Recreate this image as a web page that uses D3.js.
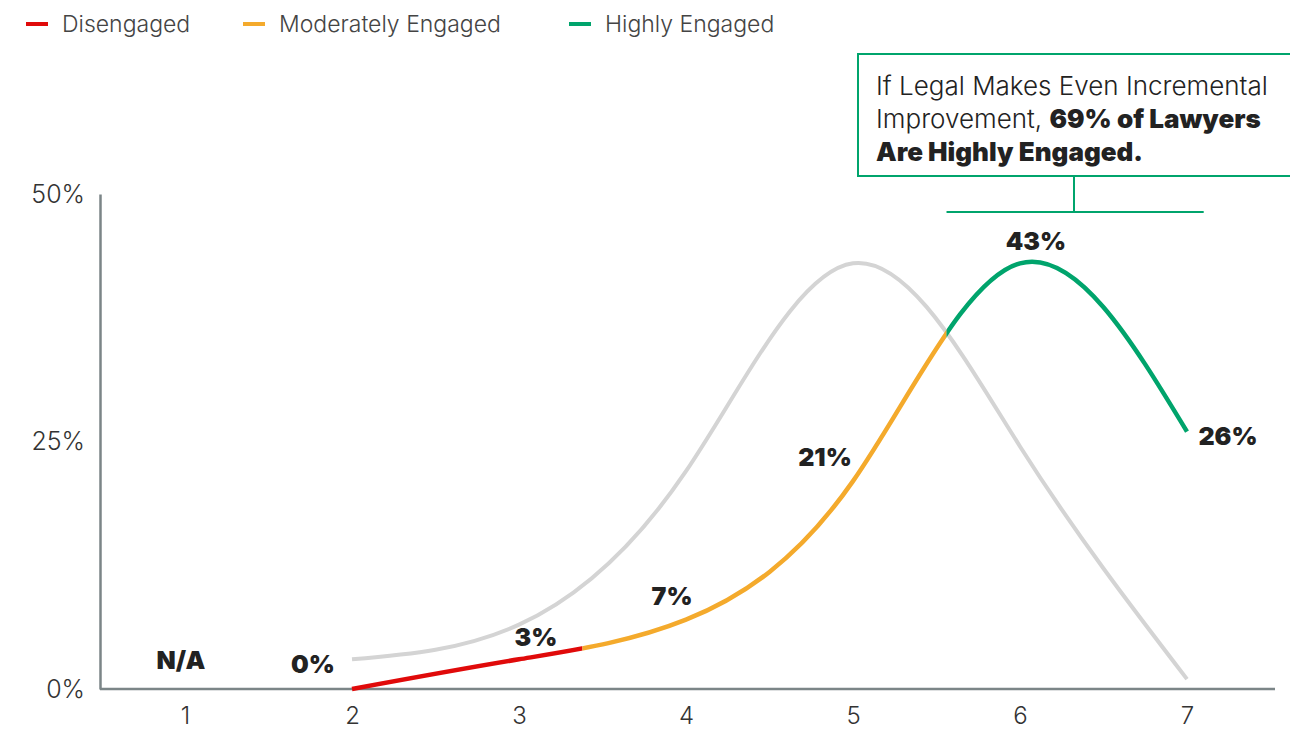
<!DOCTYPE html>
<html>
<head>
<meta charset="utf-8">
<script src="https://cdn.jsdelivr.net/npm/d3@7"></script>
<style>
  body { margin: 0; background: #fff; }
  svg { font-family: Inter, "Noto Sans", sans-serif; }
</style>
</head>
<body>
<svg width="1290" height="731"></svg>
<script>
// categories on the x axis
const categories = [1, 2, 3, 4, 5, 6, 7];
// gray (current) distribution, % of lawyers
const baselineValues = [null, 3, 6.5, 22, 43, 24.5, 1];
// coloured (after improvement) distribution
const improvedValues = [null, 0, 3, 7, 21, 43, 26];
const improvedLabels = ['N/A', '0%', '3%', '7%', '21%', '43%', '26%'];
// x-values where the coloured line changes segment
const segmentBreaks = [3.38, 5.56];
const segmentNames = ['Disengaged', 'Moderately Engaged', 'Highly Engaged'];
const segmentColors = ['#e00a0a', '#f4aa2c', '#00a46c'];
const yTicks = [0, 25, 50];

// label offsets (layout only)
const labelOffsets = [[-4, -29], [-39, -25], [17, -22], [-14, -23], [-28, -24], [16, -22], [41, 5]];

const svg = d3.select('svg');
const x = d3.scaleLinear().domain([1, 7]).range([185, 1187]);
const y = d3.scaleLinear().domain([0, 50]).range([689, 194]);

// legend
const legendX = [26, 243, 569];
const legend = svg.selectAll('.legend').data(segmentNames).enter().append('g')
  .attr('transform', (d, i) => `translate(${legendX[i]},24)`);
legend.append('line').attr('x1', 0).attr('x2', 22).attr('y1', 0).attr('y2', 0)
  .attr('stroke', (d, i) => segmentColors[i]).attr('stroke-width', 4);
legend.append('text').attr('x', 36).attr('dy', '0.35em')
  .attr('font-size', 23).attr('font-weight', 300).attr('fill', '#444').text(d => d);

// y axis
const yAxis = svg.append('g').attr('transform', 'translate(100,0)')
  .call(d3.axisLeft(y).tickValues(yTicks).tickFormat(d => d + '%').tickSize(0).tickSizeOuter(0).tickPadding(15));
yAxis.select('.domain').attr('stroke', '#7b8587').attr('stroke-width', 2.5);
yAxis.selectAll('text').attr('font-size', 25).attr('font-weight', 300).attr('fill', '#333')
  .attr('font-family', 'Inter, sans-serif');

// x axis
svg.append('line').attr('x1', 100).attr('x2', 1275).attr('y1', y(0)).attr('y2', y(0))
  .attr('stroke', '#7b8587').attr('stroke-width', 2.5);
const xAxis = svg.append('g').attr('transform', `translate(0,${y(0)})`)
  .call(d3.axisBottom(x).tickValues(categories).tickFormat(d3.format('d')).tickSize(0).tickPadding(18));
xAxis.select('.domain').remove();
xAxis.selectAll('text').attr('font-size', 24).attr('font-weight', 300).attr('fill', '#333')
  .attr('font-family', 'Inter, sans-serif');

const line = d3.line()
  .defined(d => d[1] != null)
  .x(d => x(d[0])).y(d => y(d[1]))
  .curve(d3.curveNatural);

// gray line
svg.append('path').datum(categories.map((c, i) => [c, baselineValues[i]]))
  .attr('d', line).attr('fill', 'none').attr('stroke', '#d4d4d4').attr('stroke-width', 4);

// coloured line, clipped into three segments
const bounds = [1, ...segmentBreaks, 7.5];
const defs = svg.append('defs');
segmentColors.forEach((c, i) => {
  defs.append('clipPath').attr('id', 'seg' + i).append('rect')
    .attr('x', x(bounds[i])).attr('width', x(bounds[i + 1]) - x(bounds[i]))
    .attr('y', 0).attr('height', 731);
  svg.append('path').datum(categories.map((cat, j) => [cat, improvedValues[j]]))
    .attr('d', line).attr('fill', 'none').attr('stroke', c).attr('stroke-width', 4.5)
    .attr('clip-path', `url(#seg${i})`);
});

// value labels
svg.selectAll('.vlabel').data(improvedLabels).enter().append('text')
  .attr('x', (d, i) => x(categories[i]) + labelOffsets[i][0])
  .attr('y', (d, i) => y(improvedValues[i] || 0) + labelOffsets[i][1])
  .attr('dy', '0.35em').attr('text-anchor', 'middle')
  .attr('font-size', 25).attr('font-weight', 900).attr('fill', '#222')
  .text(d => d);

// annotation
const green = segmentColors[2];
svg.append('rect').attr('x', 858).attr('y', 54).attr('width', 460).attr('height', 122)
  .attr('fill', 'none').attr('stroke', green).attr('stroke-width', 2);
svg.append('line').attr('x1', 1074).attr('x2', 1074).attr('y1', 176).attr('y2', 212)
  .attr('stroke', green).attr('stroke-width', 2);
svg.append('line').attr('x1', x(segmentBreaks[1])).attr('x2', x(7.1)).attr('y1', 212).attr('y2', 212)
  .attr('stroke', green).attr('stroke-width', 2);
const ann = svg.append('text').attr('x', 876).attr('font-size', 26).attr('font-weight', 300).attr('fill', '#222');
ann.append('tspan').attr('x', 876).attr('y', 95).text('If Legal Makes Even Incremental');
ann.append('tspan').attr('x', 876).attr('y', 128).text('Improvement, ');
ann.append('tspan').attr('font-weight', 900).text('69% of Lawyers');
ann.append('tspan').attr('x', 876).attr('y', 161).attr('font-weight', 900).text('Are Highly Engaged.');
</script>
</body>
</html>
